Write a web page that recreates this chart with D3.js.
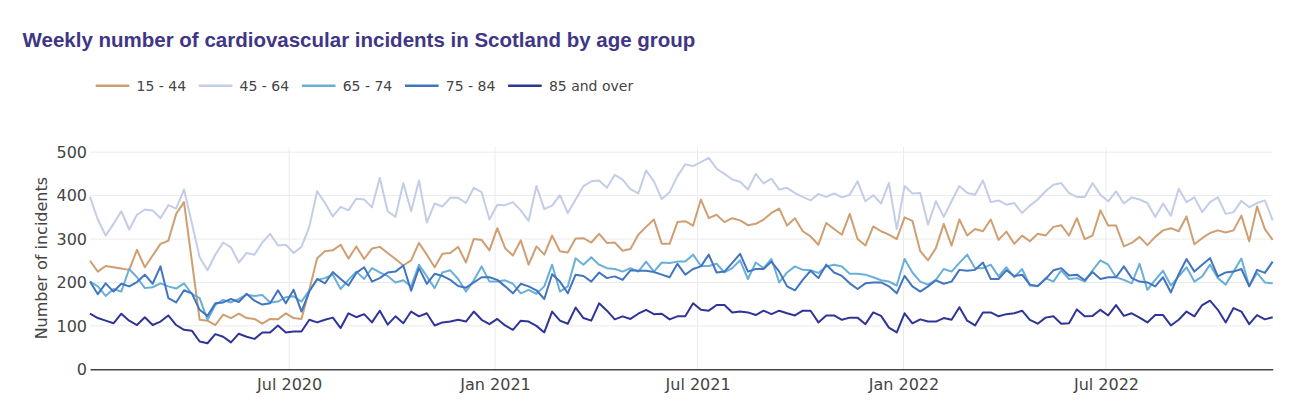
<!DOCTYPE html>
<html>
<head>
<meta charset="utf-8">
<script src="https://cdn.jsdelivr.net/npm/d3@7"></script>
<style>
  body { margin: 0; background: #fff; }
  svg { display: block; }
</style>
</head>
<body>
<div id="chart"></div>
<script>
const width = 1300
const height = 408

// weekly series, first week ending Sun 5 Jan 2020
const firstWeek = "2020-01-05"
const ageGroups = ["15 - 44", "45 - 64", "65 - 74", "75 - 84", "85 and over"]
const colors = ["#cf9f72", "#c3cde8", "#6aafd8", "#4275c0", "#2e3596"]

const age15to44 = [
  250,225,238,235,232,229,275,235,262,289,296,358,385,250,114,112,102,126,118,128,118,116,105,116,115,129,118,
  116,183,256,272,274,287,255,283,254,278,282,268,254,239,251,291,264,235,266,268,282,246,300,298,274,
  325,279,262,297,241,283,264,308,272,269,301,302,292,312,291,292,273,277,310,328,345,289,289,339,341,331,
  391,348,356,339,348,343,332,335,345,360,370,331,348,318,306,287,337,323,310,358,300,285,329,318,310,300,
  350,342,272,251,279,335,285,345,308,323,318,345,298,317,289,308,295,312,308,328,332,308,348,300,308,
  366,331,331,283,291,305,286,305,320,325,318,352,288,302,314,320,315,320,354,295,375,323,298
]
const age45to64 = [
  397,345,308,335,364,322,356,368,366,348,378,370,414,337,258,228,264,292,281,246,268,264,292,312,285,287,268,
  282,328,410,383,352,374,366,393,391,373,441,364,351,429,364,435,338,382,375,395,395,383,418,408,345,
  379,378,385,366,342,422,369,377,401,360,391,422,433,435,418,448,437,415,405,458,433,392,408,445,472,468,
  477,487,462,450,437,432,414,450,428,439,414,418,406,397,389,404,397,405,396,402,433,387,401,382,429,323,
  422,405,406,333,387,351,387,422,406,402,435,385,389,379,383,360,377,391,410,425,429,406,397,397,429,
  402,387,410,382,396,391,383,351,382,354,416,385,396,362,385,396,358,362,388,373,383,389,343
]
const age65to74 = [
  202,191,169,185,179,231,212,187,189,198,191,186,198,174,164,114,148,160,154,162,172,169,171,154,156,166,168,
  156,182,206,210,218,185,206,225,208,233,223,215,200,205,191,241,214,187,223,228,208,179,205,237,202,
  202,205,197,175,183,174,191,241,179,191,256,241,258,241,233,231,225,233,225,248,225,246,245,248,248,264,
  238,238,243,223,233,251,208,246,233,254,200,223,237,229,228,222,237,241,237,220,220,218,212,205,202,193,
  254,223,202,195,206,231,225,245,264,233,233,241,214,235,212,231,193,191,210,202,228,208,210,202,228,
  251,241,212,206,198,243,183,206,227,193,214,235,202,214,241,210,195,225,255,192,222,200,198
]
const age75to84 = [
  202,173,198,179,197,191,201,218,197,237,164,154,182,175,137,123,152,154,162,155,174,158,149,152,182,152,183,
  133,179,208,198,224,208,193,222,235,202,210,223,225,239,181,233,197,220,215,206,192,188,200,212,212,
  206,191,175,197,191,182,162,219,202,175,218,215,202,223,210,214,206,228,227,227,224,218,212,243,218,231,
  237,264,223,225,245,266,225,231,231,248,225,191,182,206,227,210,241,223,215,198,185,198,200,200,191,175,
  215,191,179,191,205,197,202,229,227,229,246,208,208,228,215,218,195,192,208,228,233,216,218,205,224,
  208,212,212,237,210,202,200,191,212,177,219,254,225,241,256,214,223,225,231,191,229,222,248
]
const age85plus = [
  128,118,112,106,128,112,102,120,102,110,124,102,91,89,64,60,81,75,62,82,75,70,85,85,101,85,87,
  87,114,108,114,119,95,129,120,127,108,135,103,122,106,133,122,129,101,108,110,114,110,133,114,104,
  116,101,91,112,110,100,85,133,112,105,142,118,112,152,135,115,122,116,128,137,127,128,115,122,122,152,
  137,135,148,148,131,133,131,125,135,127,135,129,124,135,135,108,124,124,114,119,119,104,131,123,96,85,
  129,106,115,110,110,118,114,143,112,101,131,131,122,127,129,135,114,105,119,122,105,106,138,122,123,
  137,124,148,123,129,119,108,125,125,101,114,133,122,148,158,137,108,141,133,104,125,115,120
]

const xTicks = ["2020-07-01", "2021-01-01", "2021-07-01", "2022-01-01", "2022-07-01"]
const yTicks = [0, 100, 200, 300, 400, 500]

const parse = d3.timeParse("%Y-%m-%d")
const start = parse(firstWeek)
const weeks = age15to44.map((_, i) => d3.timeDay.offset(start, 7 * i))
const seriesValues = [age15to44, age45to64, age65to74, age75to84, age85plus]
const series = ageGroups.map((name, k) => ({
  name,
  color: colors[k],
  points: seriesValues[k].map((v, i) => ({date: weeks[i], value: v}))
}))

const margin = {left: 90, right: 27.3, top: 147, bottom: 38.7}
const plotBottom = height - margin.bottom

const x = d3.scaleTime()
  .domain(d3.extent(weeks))
  .range([margin.left, width - margin.right])

const y = d3.scaleLinear()
  .domain([0, 512])
  .range([plotBottom, margin.top])

const svg = d3.select("#chart")
  .append("svg")
  .attr("width", width)
  .attr("height", height)
  .attr("viewBox", [0, 0, width, height])

// title
svg.append("text")
  .attr("x", 22.5)
  .attr("y", 47.3)
  .attr("fill", "#3f3685")
  .style("font", "bold 20.5px 'Liberation Sans', Arial, sans-serif")
  .text("Weekly number of cardiovascular incidents in Scotland by age group")

// legend
const legend = svg.append("g")
  .selectAll("g")
  .data(series)
  .join("g")
    .attr("transform", (d, i) => `translate(${95.7 + i * 103.1},85.7)`)

legend.append("line")
  .attr("x1", 0).attr("x2", 33.6)
  .attr("stroke", d => d.color)
  .attr("stroke-width", 2.5)

legend.append("text")
  .attr("x", 40.8)
  .attr("dy", "0.36em")
  .attr("fill", "#444")
  .style("font", "14px 'DejaVu Sans', Verdana, sans-serif")
  .text(d => d.name)

// grid
svg.append("g")
  .selectAll("line")
  .data(yTicks.filter(t => t > 0))
  .join("line")
    .attr("x1", margin.left).attr("x2", width - margin.right)
    .attr("y1", d => y(d)).attr("y2", d => y(d))
    .attr("stroke", "#ebebeb")

svg.append("g")
  .selectAll("line")
  .data(xTicks.map(parse))
  .join("line")
    .attr("x1", d => x(d)).attr("x2", d => x(d))
    .attr("y1", margin.top).attr("y2", plotBottom)
    .attr("stroke", "#ebebeb")

// axes
const yAxis = svg.append("g")
  .attr("transform", `translate(${margin.left},0)`)
  .call(d3.axisLeft(y).tickValues(yTicks).tickSize(0).tickPadding(3))
yAxis.select(".domain").remove()
yAxis.selectAll("text")
  .attr("fill", "#444")
  .style("font", "16px 'DejaVu Sans', Verdana, sans-serif")

const xAxis = svg.append("g")
  .attr("transform", `translate(0,${plotBottom})`)
  .call(d3.axisBottom(x).tickValues(xTicks.map(parse)).tickFormat(d3.timeFormat("%b %Y")).tickSize(0).tickPadding(9))
xAxis.select(".domain").attr("stroke", "#444").attr("stroke-width", 1.5)
xAxis.selectAll("text")
  .attr("fill", "#444")
  .style("font", "16px 'DejaVu Sans', Verdana, sans-serif")

svg.append("text")
  .attr("transform", `translate(41,${(margin.top + plotBottom) / 2}) rotate(-90)`)
  .attr("text-anchor", "middle")
  .attr("dy", "0.35em")
  .attr("fill", "#444")
  .style("font", "16px 'DejaVu Sans', Verdana, sans-serif")
  .text("Number of incidents")

// lines
const line = d3.line()
  .x(d => x(d.date))
  .y(d => y(d.value))

svg.append("g")
  .selectAll("path")
  .data(series)
  .join("path")
    .attr("fill", "none")
    .attr("stroke", d => d.color)
    .attr("stroke-width", 2)
    .attr("stroke-linejoin", "round")
    .attr("d", d => line(d.points))
</script>
</body>
</html>
